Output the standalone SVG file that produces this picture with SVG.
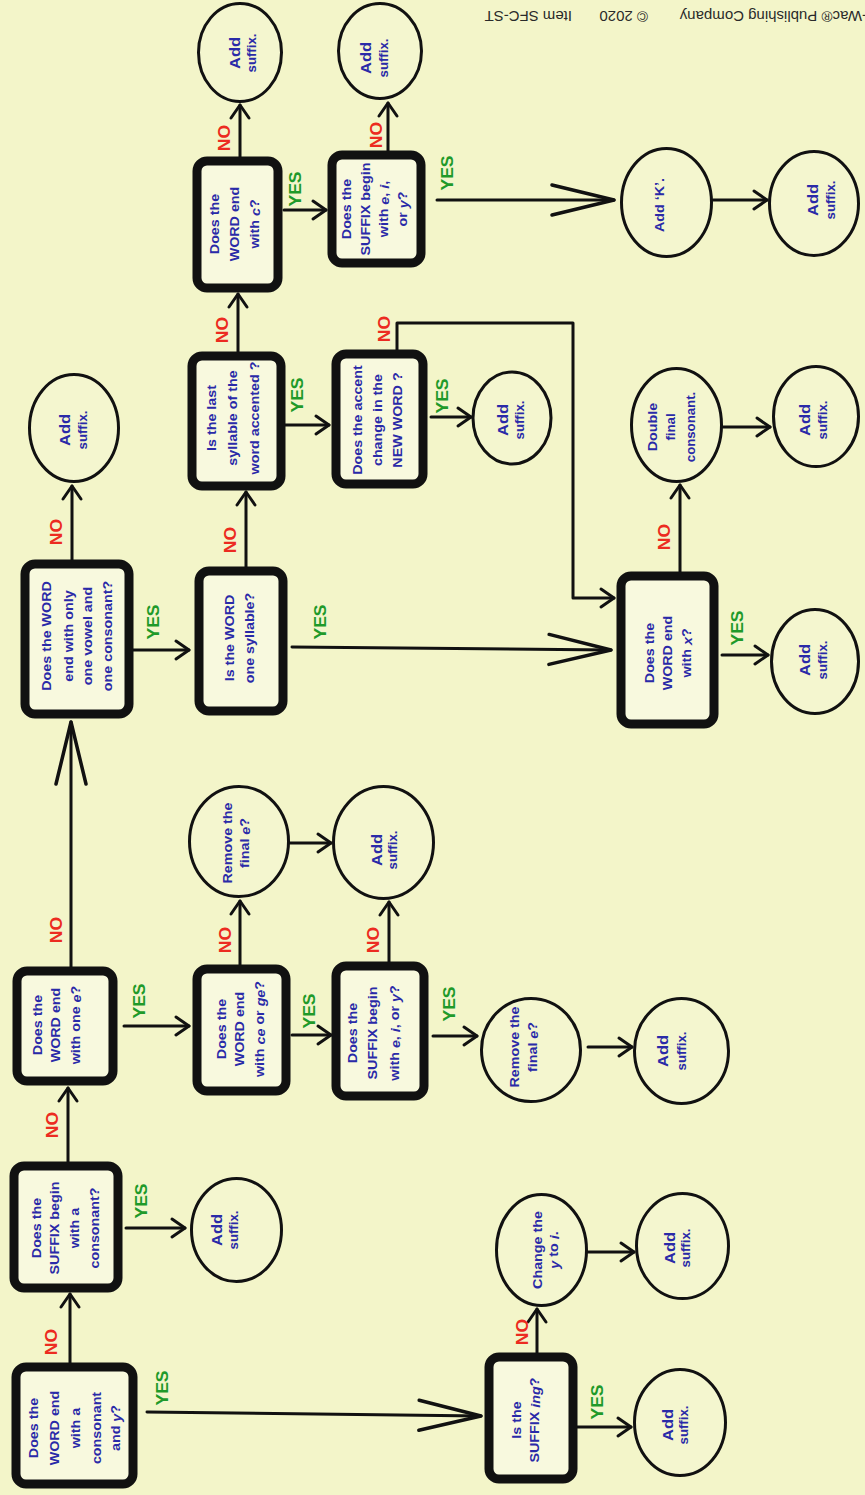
<svg xmlns="http://www.w3.org/2000/svg" width="865" height="1495" viewBox="0 0 865 1495">
  <defs>
    <style>
      .box { fill: #f8f9de; stroke: #111; stroke-width: 9; stroke-linejoin: round; }
      .circ { fill: #f4f6cf; stroke: #111; stroke-width: 3; }
      .q { font-family: "Liberation Sans", Arial, sans-serif; font-weight: bold; font-size: 13px; fill: #2a2aa8; text-anchor: middle; dominant-baseline: central; }
      .big { font-size: 15px; }
      .sm { font-size: 12px; }
      .i { font-style: italic; }
      .lab { font-family: "Liberation Sans", Arial, sans-serif; font-weight: bold; font-size: 16px; text-anchor: middle; dominant-baseline: central; }
      .yes { fill: #1f9a2a; }
      .no { fill: #ec2b20; }
      .link { fill: none; stroke: #111; stroke-width: 3; stroke-linecap: round; stroke-linejoin: round; marker-end: url(#ah); }
      .long { marker-end: url(#ahL); }
      .ft { font-family: "Liberation Sans", Arial, sans-serif; font-size: 15px; fill: #2a2a2a; }
    </style>
    <marker id="ah" markerUnits="userSpaceOnUse" viewBox="-16 -12 19 24" refX="0" refY="0" markerWidth="19" markerHeight="24" orient="auto">
      <path d="M-13,-9 L0,0 L-13,9" fill="none" stroke="#111" stroke-width="3" stroke-linecap="round" stroke-linejoin="round"/>
    </marker>
    <marker id="ahL" markerUnits="userSpaceOnUse" viewBox="-68 -19 72 38" refX="0" refY="0" markerWidth="72" markerHeight="38" orient="auto">
      <path d="M-62,-15 L0,0 L-62,15" fill="none" stroke="#111" stroke-width="3.5" stroke-linecap="round" stroke-linejoin="round"/>
    </marker>
  </defs>

  <rect width="865" height="1495" fill="#f3f5c9"/>

  <!-- footer, printed upside down -->
  <g id="footer">
    <text class="ft" transform="translate(867,11) rotate(180)">-Wac® Publishing Company</text>
    <text class="ft" transform="translate(648,11) rotate(180)">© 2020</text>
    <text class="ft" transform="translate(572,11) rotate(180)">Item SFC-ST</text>
  </g>

  <!-- connectors -->
  <g id="connectors">
    <line class="link" x1="70" y1="1363" x2="70" y2="1294"/>
    <line class="link long" x1="147" y1="1412" x2="481" y2="1416"/>
    <line class="link" x1="126" y1="1228" x2="185" y2="1228"/>
    <line class="link" x1="68" y1="1162" x2="68" y2="1088"/>
    <line class="link" x1="124" y1="1026" x2="189" y2="1026"/>
    <line class="link long" x1="71" y1="967" x2="71" y2="722"/>
    <line class="link" x1="292" y1="1035" x2="331" y2="1035"/>
    <line class="link" x1="240" y1="965" x2="240" y2="901"/>
    <line class="link" x1="290" y1="843" x2="331" y2="843"/>
    <line class="link" x1="389" y1="962" x2="389" y2="902"/>
    <line class="link" x1="433" y1="1036" x2="477" y2="1036"/>
    <line class="link" x1="588" y1="1047" x2="632" y2="1047"/>
    <line class="link" x1="133" y1="650" x2="189" y2="650"/>
    <line class="link" x1="72" y1="560" x2="72" y2="486"/>
    <line class="link" x1="246" y1="567" x2="246" y2="492"/>
    <line class="link long" x1="292" y1="647" x2="611" y2="650"/>
    <line class="link" x1="285" y1="425" x2="329" y2="425"/>
    <line class="link" x1="238" y1="352" x2="238" y2="294"/>
    <line class="link" x1="431" y1="417" x2="471" y2="417"/>
    <polyline class="link" points="397,351 397,323 573,323 573,598 614,598"/>
    <line class="link" x1="240" y1="157" x2="240" y2="105"/>
    <line class="link" x1="284" y1="210" x2="326" y2="210"/>
    <line class="link" x1="388" y1="151" x2="388" y2="103"/>
    <line class="link long" x1="437" y1="200" x2="614" y2="200"/>
    <line class="link" x1="713" y1="200" x2="767" y2="200"/>
    <line class="link" x1="680" y1="572" x2="680" y2="485"/>
    <line class="link" x1="722" y1="655" x2="768" y2="655"/>
    <line class="link" x1="723" y1="427" x2="770" y2="427"/>
    <line class="link" x1="537" y1="1355" x2="537" y2="1309"/>
    <line class="link" x1="577" y1="1427" x2="631" y2="1427"/>
    <line class="link" x1="588" y1="1252" x2="634" y2="1252"/>
  </g>

  <!-- YES / NO labels -->
  <g id="labels">
    <text class="lab no" transform="translate(52,1342) rotate(-90) scale(1.1,1)">NO</text>
    <text class="lab yes" transform="translate(163,1388) rotate(-90) scale(1.1,1)">YES</text>
    <text class="lab yes" transform="translate(142,1201) rotate(-90) scale(1.1,1)">YES</text>
    <text class="lab no" transform="translate(53,1125) rotate(-90) scale(1.1,1)">NO</text>
    <text class="lab yes" transform="translate(140,1001) rotate(-90) scale(1.1,1)">YES</text>
    <text class="lab no" transform="translate(57,930) rotate(-90) scale(1.1,1)">NO</text>
    <text class="lab yes" transform="translate(310,1011) rotate(-90) scale(1.1,1)">YES</text>
    <text class="lab no" transform="translate(226,940) rotate(-90) scale(1.1,1)">NO</text>
    <text class="lab no" transform="translate(374,940) rotate(-90) scale(1.1,1)">NO</text>
    <text class="lab yes" transform="translate(450,1004) rotate(-90) scale(1.1,1)">YES</text>
    <text class="lab yes" transform="translate(154,622) rotate(-90) scale(1.1,1)">YES</text>
    <text class="lab no" transform="translate(57,532) rotate(-90) scale(1.1,1)">NO</text>
    <text class="lab no" transform="translate(231,540) rotate(-90) scale(1.1,1)">NO</text>
    <text class="lab yes" transform="translate(321,622) rotate(-90) scale(1.1,1)">YES</text>
    <text class="lab yes" transform="translate(298,395) rotate(-90) scale(1.1,1)">YES</text>
    <text class="lab no" transform="translate(223,330) rotate(-90) scale(1.1,1)">NO</text>
    <text class="lab yes" transform="translate(443,396) rotate(-90) scale(1.1,1)">YES</text>
    <text class="lab no" transform="translate(385,329) rotate(-90) scale(1.1,1)">NO</text>
    <text class="lab yes" transform="translate(296,189) rotate(-90) scale(1.1,1)">YES</text>
    <text class="lab no" transform="translate(225,138) rotate(-90) scale(1.1,1)">NO</text>
    <text class="lab no" transform="translate(377,135) rotate(-90) scale(1.1,1)">NO</text>
    <text class="lab yes" transform="translate(448,173) rotate(-90) scale(1.1,1)">YES</text>
    <text class="lab no" transform="translate(665,537) rotate(-90) scale(1.1,1)">NO</text>
    <text class="lab yes" transform="translate(738,628) rotate(-90) scale(1.1,1)">YES</text>
    <text class="lab no" transform="translate(523,1332) rotate(-90) scale(1.1,1)">NO</text>
    <text class="lab yes" transform="translate(598,1402) rotate(-90) scale(1.1,1)">YES</text>
  </g>

  <!-- decision boxes -->
  <g id="d1">
    <rect class="box" x="16" y="1367" width="117" height="117" rx="10"/>
    <g class="q" transform="translate(0,1428) rotate(-90) scale(1.1,1)">
      <text y="34">Does the</text><text y="55">WORD end</text><text y="76">with a</text><text y="97">consonant</text><text y="116">and <tspan class="i">y</tspan>?</text>
    </g>
  </g>
  <g id="d2">
    <rect class="box" x="14" y="1166" width="104" height="122" rx="10"/>
    <g class="q" transform="translate(0,1228) rotate(-90) scale(1.1,1)">
      <text y="37">Does the</text><text y="55">SUFFIX begin</text><text y="75">with a</text><text y="95">consonant?</text>
    </g>
  </g>
  <g id="d3">
    <rect class="box" x="17" y="971" width="96" height="110" rx="10"/>
    <g class="q" transform="translate(0,1025) rotate(-90) scale(1.1,1)">
      <text y="38">Does the</text><text y="56">WORD end</text><text y="76">with one <tspan class="i">e</tspan>?</text>
    </g>
  </g>
  <g id="d4">
    <rect class="box" x="25" y="564" width="104" height="150" rx="10"/>
    <g class="q" transform="translate(0,636) rotate(-90) scale(1.1,1)">
      <text y="47">Does the WORD</text><text y="69">end with only</text><text y="88">one vowel and</text><text y="108">one consonant?</text>
    </g>
  </g>
  <g id="d5">
    <rect class="box" x="197" y="969" width="89" height="122" rx="10"/>
    <g class="q" transform="translate(0,1029) rotate(-90) scale(1.1,1)">
      <text y="222">Does the</text><text y="240">WORD end</text><text y="260">with <tspan class="i">ce</tspan> or <tspan class="i">ge</tspan>?</text>
    </g>
  </g>
  <g id="d6">
    <rect class="box" x="199" y="571" width="84" height="140" rx="10"/>
    <g class="q" transform="translate(0,638) rotate(-90) scale(1.1,1)">
      <text y="230">Is the WORD</text><text y="250">one syllable?</text>
    </g>
  </g>
  <g id="d7">
    <rect class="box" x="192" y="356" width="89" height="130" rx="10"/>
    <g class="q" transform="translate(0,418) rotate(-90) scale(1.1,1)">
      <text y="212">Is the last</text><text y="233">syllable of the</text><text y="255">word accented ?</text>
    </g>
  </g>
  <g id="d8">
    <rect class="box" x="197" y="161" width="81" height="127" rx="10"/>
    <g class="q" transform="translate(0,224) rotate(-90) scale(1.1,1)">
      <text y="215">Does the</text><text y="235">WORD end</text><text y="255">with <tspan class="i">c</tspan>?</text>
    </g>
  </g>
  <g id="d9">
    <rect class="box" x="336" y="966" width="88" height="130" rx="10"/>
    <g class="q" transform="translate(0,1033) rotate(-90) scale(1.1,1)">
      <text y="353">Does the</text><text y="373">SUFFIX begin</text><text y="395">with <tspan class="i">e</tspan>, <tspan class="i">i</tspan>,  or <tspan class="i">y</tspan>?</text>
    </g>
  </g>
  <g id="d10">
    <rect class="box" x="336" y="354" width="87" height="130" rx="10"/>
    <g class="q" transform="translate(0,420) rotate(-90) scale(1.1,1)">
      <text y="358">Does the accent</text><text y="378">change in the</text><text y="398">NEW WORD ?</text>
    </g>
  </g>
  <g id="d11">
    <rect class="box" x="332" y="155" width="89" height="108" rx="10"/>
    <g class="q" transform="translate(0,209) rotate(-90) scale(1.1,1)">
      <text y="347">Does the</text><text y="366">SUFFIX begin</text><text y="384">with <tspan class="i">e</tspan>, <tspan class="i">i</tspan>,</text><text y="403">or <tspan class="i">y</tspan>?</text>
    </g>
  </g>
  <g id="d12">
    <rect class="box" x="489" y="1357" width="84" height="122" rx="10"/>
    <g class="q" transform="translate(0,1420) rotate(-90) scale(1.1,1)">
      <text y="517">Is the</text><text y="535">SUFFIX <tspan class="i">ing</tspan>?</text>
    </g>
  </g>
  <g id="d13">
    <rect class="box" x="621" y="576" width="93" height="148" rx="10"/>
    <g class="q" transform="translate(0,653) rotate(-90) scale(1.1,1)">
      <text y="650">Does the</text><text y="668">WORD end</text><text y="687">with <tspan class="i">x</tspan>?</text>
    </g>
  </g>

  <!-- action circles -->
  <g id="c1">
    <ellipse class="circ" cx="236.5" cy="1230" rx="45" ry="51.5"/>
    <g class="q" transform="translate(0,1230) rotate(-90) scale(1.1,1)"><text class="big" y="217">Add</text><text class="sm" y="234">suffix.</text></g>
  </g>
  <g id="c2">
    <ellipse class="circ" cx="239" cy="841.5" rx="49.5" ry="55"/>
    <g class="q" transform="translate(0,843) rotate(-90) scale(1.1,1)"><text y="228">Remove the</text><text y="245">final <tspan class="i">e</tspan>?</text></g>
  </g>
  <g id="c3">
    <ellipse class="circ" cx="383.5" cy="842.5" rx="50" ry="56"/>
    <g class="q" transform="translate(0,850) rotate(-90) scale(1.1,1)"><text class="big" y="377">Add</text><text class="sm" y="393">suffix.</text></g>
  </g>
  <g id="c4">
    <ellipse class="circ" cx="240" cy="52.5" rx="41.5" ry="49"/>
    <g class="q" transform="translate(0,53) rotate(-90) scale(1.1,1)"><text class="big" y="235">Add</text><text class="sm" y="252">suffix.</text></g>
  </g>
  <g id="c5">
    <ellipse class="circ" cx="380" cy="51" rx="41.5" ry="47.5"/>
    <g class="q" transform="translate(0,58) rotate(-90) scale(1.1,1)"><text class="big" y="366">Add</text><text class="sm" y="384">suffix.</text></g>
  </g>
  <g id="c6">
    <ellipse class="circ" cx="512" cy="418" rx="39" ry="46"/>
    <g class="q" transform="translate(0,420) rotate(-90) scale(1.1,1)"><text class="big" y="503">Add</text><text class="sm" y="520">suffix.</text></g>
  </g>
  <g id="c7">
    <ellipse class="circ" cx="74" cy="428" rx="44.5" ry="53.5"/>
    <g class="q" transform="translate(0,430) rotate(-90) scale(1.1,1)"><text class="big" y="65">Add</text><text class="sm" y="83">suffix.</text></g>
  </g>
  <g id="c8">
    <ellipse class="circ" cx="541.5" cy="1250" rx="45" ry="55.5"/>
    <g class="q" transform="translate(0,1250) rotate(-90) scale(1.1,1)"><text y="538">Change the</text><text y="554"><tspan class="i">y</tspan> to <tspan class="i">i</tspan>.</text></g>
  </g>
  <g id="c9">
    <ellipse class="circ" cx="531" cy="1050" rx="49.5" ry="51.5"/>
    <g class="q" transform="translate(0,1047) rotate(-90) scale(1.1,1)"><text y="515">Remove the</text><text y="533">final <tspan class="i">e</tspan>?</text></g>
  </g>
  <g id="c10">
    <ellipse class="circ" cx="681.5" cy="1051" rx="47" ry="52.5"/>
    <g class="q" transform="translate(0,1051) rotate(-90) scale(1.1,1)"><text class="big" y="663">Add</text><text class="sm" y="682">suffix.</text></g>
  </g>
  <g id="c11">
    <ellipse class="circ" cx="682.5" cy="1246" rx="46" ry="52.5"/>
    <g class="q" transform="translate(0,1248) rotate(-90) scale(1.1,1)"><text class="big" y="670">Add</text><text class="sm" y="686">suffix.</text></g>
  </g>
  <g id="c12">
    <ellipse class="circ" cx="680" cy="1422.5" rx="45.5" ry="53"/>
    <g class="q" transform="translate(0,1425) rotate(-90) scale(1.1,1)"><text class="big" y="668">Add</text><text class="sm" y="684">suffix.</text></g>
  </g>
  <g id="c13">
    <ellipse class="circ" cx="676.5" cy="425" rx="45" ry="56.5"/>
    <g class="q" transform="translate(0,427) rotate(-90) scale(1.1,1)"><text y="653">Double</text><text class="sm" y="671">final</text><text class="sm" y="691">consonant.</text></g>
  </g>
  <g id="c14">
    <ellipse class="circ" cx="816" cy="416.5" rx="42.5" ry="50"/>
    <g class="q" transform="translate(0,420) rotate(-90) scale(1.1,1)"><text class="big" y="805">Add</text><text class="sm" y="823">suffix.</text></g>
  </g>
  <g id="c15">
    <ellipse class="circ" cx="815" cy="661.5" rx="43.5" ry="52"/>
    <g class="q" transform="translate(0,660) rotate(-90) scale(1.1,1)"><text class="big" y="805">Add</text><text class="sm" y="823">suffix.</text></g>
  </g>
  <g id="c16">
    <ellipse class="circ" cx="666.5" cy="202.5" rx="45" ry="54"/>
    <g class="q" transform="translate(0,205) rotate(-90) scale(1.1,1)"><text y="660">Add ‘K’.</text></g>
  </g>
  <g id="c17">
    <ellipse class="circ" cx="814" cy="203.5" rx="44.5" ry="52"/>
    <g class="q" transform="translate(0,200) rotate(-90) scale(1.1,1)"><text class="big" y="813">Add</text><text class="sm" y="831">suffix.</text></g>
  </g>
</svg>
